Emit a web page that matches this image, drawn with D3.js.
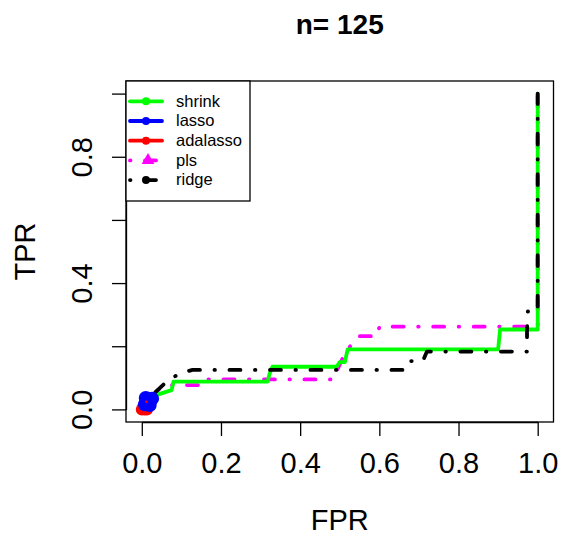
<!DOCTYPE html>
<html><head><meta charset="utf-8">
<script src="https://cdn.jsdelivr.net/npm/d3@7"></script>
<style>body{margin:0;background:#fff}svg{display:block}</style>
</head><body><svg id="chart" width="564" height="542"></svg>
<script>
// ---- data ----
const seriesNames  = ["shrink", "lasso", "adalasso", "pls", "ridge"];
const seriesColors = ["#00ff00", "#0000ff", "#ff0000", "#ff00ff", "#000000"];

const shrinkFPR = [0, 0.008, 0.038, 0.075, 0.078, 0.08, 0.318, 0.322, 0.33, 0.492, 0.5, 0.513, 0.52, 0.9, 0.905, 0.995, 1.0, 1.0];
const shrinkTPR = [0, 0.03, 0.046, 0.061, 0.075, 0.088, 0.088, 0.11, 0.135, 0.135, 0.15, 0.15, 0.19, 0.19, 0.253, 0.253, 0.253, 1.0];

const lassoFPR = [0.008, 0.01, 0.017, 0.02, 0.026];
const lassoTPR = [0.016, 0.036, 0.025, 0.014, 0.034];

const adalassoFPR = [0, 0.004, 0.007, 0.013, 0.012];
const adalassoTPR = [0, 0.01, 0, 0, 0.024];

const plsFPR = [0, 0.01, 0.04, 0.065, 0.15, 0.155, 0.485, 0.49, 0.515, 0.548, 0.595, 0.6, 0.995, 1.0, 1.0];
const plsTPR = [0, 0.02, 0.06, 0.077, 0.077, 0.095, 0.095, 0.115, 0.183, 0.232, 0.232, 0.262, 0.262, 0.262, 1.0];

const ridgeFPR = [0.005, 0.03, 0.067, 0.1, 0.128, 0.67, 0.68, 0.71, 0.72, 0.973, 0.973, 0.975, 0.99, 1.0, 1.0];
const ridgeTPR = [0.025, 0.05, 0.093, 0.116, 0.125, 0.125, 0.153, 0.153, 0.183, 0.183, 0.25, 0.31, 0.31, 0.31, 1.0];

const xTicks = [0, 0.2, 0.4, 0.6, 0.8, 1.0];
const xTickLabels = ["0.0", "0.2", "0.4", "0.6", "0.8", "1.0"];
const yTicks = [0, 0.2, 0.4, 0.6, 0.8, 1.0];
const yTickLabels = ["0.0", "", "0.4", "", "0.8", ""];

const titleText = "n= 125";
const xTitle = "FPR";
const yTitle = "TPR";

// ---- drawing ----
const FONT = "'Liberation Sans', Arial, Helvetica, sans-serif";
const svg = d3.select("#chart");
svg.append("rect").attr("width", 564).attr("height", 542).attr("fill", "#fff");

const box = {left: 126, top: 81, right: 553.5, bottom: 422};
const x = d3.scaleLinear().domain([0, 1]).range([141.8, 537.7]);
const y = d3.scaleLinear().domain([0, 1]).range([409.4, 93.6]);
const line = d3.line().x(d => x(d[0])).y(d => y(d[1]));
const pts = (f, t) => f.map((v, i) => [v, t[i]]);

const LW = 3.8;
const DOTDASH = "0.5,14.5,11,14.5";

const plot = svg.append("g");
function drawLine(data, color, dash) {
  plot.append("path").datum(data)
    .attr("d", line).attr("fill", "none")
    .attr("stroke", color).attr("stroke-width", LW)
    .attr("stroke-linecap", "round").attr("stroke-linejoin", "round")
    .attr("stroke-dasharray", dash || null);
}
function drawPoints(data, color, r) {
  plot.selectAll(null).data(data).enter().append("circle")
    .attr("cx", d => x(d[0])).attr("cy", d => y(d[1]))
    .attr("r", r).attr("fill", color);
}

drawLine(pts(plsFPR, plsTPR), seriesColors[3], DOTDASH);
drawLine(pts(shrinkFPR, shrinkTPR), seriesColors[0]);
drawLine(pts(ridgeFPR, ridgeTPR), seriesColors[4], DOTDASH);
const ada = pts(adalassoFPR, adalassoTPR);
drawLine(ada.slice(0, 4), seriesColors[2]);
drawPoints(ada.slice(0, 4), seriesColors[2], 6);
drawLine(pts(lassoFPR, lassoTPR), seriesColors[1]);
drawPoints(pts(lassoFPR, lassoTPR), seriesColors[1], 7);
drawPoints(ada.slice(4), seriesColors[2], 1.3);

// box
svg.append("rect").attr("x", box.left).attr("y", box.top)
  .attr("width", box.right - box.left).attr("height", box.bottom - box.top)
  .attr("fill", "none").attr("stroke", "#000").attr("stroke-width", 1.3);

// x axis
const gx = svg.append("g").attr("transform", `translate(0,${box.bottom})`)
  .call(d3.axisBottom(x).tickValues(xTicks).tickFormat((d, i) => xTickLabels[i])
        .tickSize(14).tickSizeOuter(0));
gx.attr("font-family", FONT).attr("font-size", 29);
gx.selectAll("path,line").attr("stroke", "#000").attr("stroke-width", 1.3);
gx.selectAll("text").attr("y", 51).attr("dy", 0).attr("fill", "#000");

// y axis
const gy = svg.append("g").attr("transform", `translate(${box.left},0)`)
  .call(d3.axisLeft(y).tickValues(yTicks).tickFormat((d, i) => yTickLabels[i])
        .tickSize(14).tickSizeOuter(0));
gy.attr("font-family", FONT).attr("font-size", 29);
gy.selectAll("path,line").attr("stroke", "#000").attr("stroke-width", 1.3);
gy.selectAll("text").attr("x", 0).attr("y", 0).attr("dy", 0)
  .attr("text-anchor", "middle").attr("fill", "#000")
  .attr("transform", "translate(-34,0) rotate(-90)");

// titles
svg.append("text").attr("x", (box.left + box.right) / 2).attr("y", 34)
  .attr("text-anchor", "middle").attr("font-family", FONT)
  .attr("font-weight", "bold").attr("font-size", 28).text(titleText);
svg.append("text").attr("x", (box.left + box.right) / 2).attr("y", 530)
  .attr("text-anchor", "middle").attr("font-family", FONT)
  .attr("font-size", 29).text(xTitle);
svg.append("text").attr("transform", `translate(35,${(box.top + box.bottom) / 2}) rotate(-90)`)
  .attr("text-anchor", "middle").attr("font-family", FONT)
  .attr("font-size", 29).text(yTitle);

// legend
const lg = svg.append("g");
lg.append("rect").attr("x", box.left).attr("y", box.top).attr("width", 124).attr("height", 120)
  .attr("fill", "#fff").attr("stroke", "#000").attr("stroke-width", 1.3);
const legendDash = [null, null, null, DOTDASH, DOTDASH];
seriesNames.forEach((name, i) => {
  const yy = 101.3 + i * 19.7;
  lg.append("line").attr("x1", 130).attr("x2", 162).attr("y1", yy).attr("y2", yy)
    .attr("stroke", seriesColors[i]).attr("stroke-width", LW)
    .attr("stroke-linecap", "round").attr("stroke-dasharray", legendDash[i]);
  if (name === "pls") {
    const s = d3.symbol().type(d3.symbolTriangle).size(70);
    lg.append("path").attr("d", s()).attr("transform", `translate(148,${yy})`)
      .attr("fill", seriesColors[i]);
  } else {
    lg.append("circle").attr("cx", 146).attr("cy", yy).attr("r", 4).attr("fill", seriesColors[i]);
  }
  lg.append("text").attr("x", 176).attr("y", yy + 5.3)
    .attr("font-family", FONT).attr("font-size", 16.5).text(name);
});
</script>
</body></html>
